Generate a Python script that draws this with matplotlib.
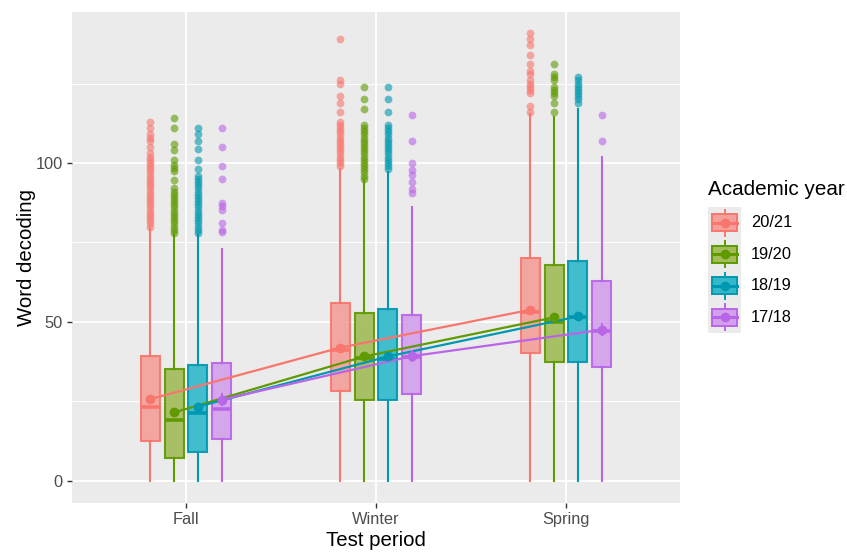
import matplotlib.pyplot as plt
import numpy as np

plt.rcParams['font.family'] = ['Liberation Sans', 'DejaVu Sans']

# ---------------------------
# Data
# ---------------------------
periods = ["Fall", "Winter", "Spring"]
years = ["20/21", "19/20", "18/19", "17/18"]

# indexed [period][year]
q1 = [[12.4, 7.1, 8.9, 13.1],
      [28.3, 25.3, 25.3, 27.2],
      [40.1, 37.3, 37.3, 35.9]]
med = [[23.2, 19.0, 21.3, 22.5],
       [41.2, 38.6, 38.3, 38.8],
       [53.2, 49.8, 51.4, 47.2]]
q3 = [[39.1, 35.1, 36.3, 37.1],
      [55.9, 52.9, 54.0, 52.0],
      [70.0, 67.9, 69.0, 63.0]]
whis_lo = [[0, 0, 0, 0],
           [0, 0, 0, 0],
           [0, 0, 0, 0]]
whis_hi = [[79.5, 77.5, 77.5, 73.0],
           [98.0, 94.5, 97.0, 86.0],
           [115.5, 114.5, 117.0, 102.0]]
means = [[25.7, 21.5, 23.3, 25.5],
         [41.9, 39.1, 39.1, 39.2],
         [53.8, 51.4, 51.7, 47.5]]
mean_err = [[0.4, 0.4, 0.5, 2.1],
            [0.4, 0.4, 0.5, 1.8],
            [0.5, 0.5, 0.6, 2.1]]

outliers = [
    [  # Fall
        [80, 81, 82, 83, 84, 85, 86, 87, 88, 89, 90, 91, 92, 93, 94, 95, 96,
         97, 98, 99, 100, 101, 102, 103, 105, 107, 108, 109, 111, 113],
        [78, 79, 80, 81, 82, 83, 84, 85, 86, 87, 88, 89, 90, 91, 92, 94.7,
         97.5, 98.5, 99.4, 101, 104, 106, 111, 114],
        [78, 79, 80, 81, 82, 83, 84, 85, 86, 87, 88, 89, 90, 91, 92, 93, 94,
         95, 96, 98, 101, 104.5, 107, 109, 111],
        [78.4, 79, 81, 85.2, 86.3, 87.3, 95.1, 99.1, 105.1, 111.1],
    ],
    [  # Winter
        [99, 100, 101, 102, 103, 104, 105, 106, 107, 108, 109, 110, 111, 112,
         113, 116, 119, 121, 125, 126, 139],
        [95, 96, 97, 98, 99, 100, 101, 102, 103, 104, 105, 106, 107, 108, 109,
         110, 111, 112, 117, 120, 124],
        [98, 99, 100, 101, 102, 103, 104, 105, 106, 107, 108, 109, 110, 111,
         112, 116, 120, 124],
        [90.5, 91.8, 94.1, 96.2, 97.8, 99.9, 107, 115],
    ],
    [  # Spring
        [116, 118, 122, 123, 124, 125, 126, 128, 129, 131, 134, 137, 139, 141],
        [116, 119, 121, 122, 123, 124, 126, 127, 128, 131],
        [119, 120, 121, 122, 123, 124, 125, 126, 127],
        [107, 115],
    ],
]

# ---------------------------
# Styling
# ---------------------------
line_cols = ["#F8766D", "#5E9A00", "#0098B0", "#B965E8"]
fill_cols = ["#F4A09A", "#A3BD5A", "#33B9CB", "#D3A1EC"]
offsets = [-0.1875, -0.0625, 0.0625, 0.1875]
box_w = 0.1

fig = plt.figure(figsize=(8.47, 5.52), dpi=100)
ax = fig.add_axes([72 / 847, 49 / 552, 608 / 847, 491 / 552])
ax.set_facecolor("#EBEBEB")
for s in ax.spines.values():
    s.set_visible(False)

# boxplots
for p in range(len(periods)):
    for j in range(len(years)):
        stats = [dict(med=med[p][j], q1=q1[p][j], q3=q3[p][j],
                      whislo=whis_lo[p][j], whishi=whis_hi[p][j],
                      fliers=outliers[p][j])]
        ax.bxp(stats, positions=[p + 1 + offsets[j]], widths=box_w,
               patch_artist=True, showcaps=False, manage_ticks=False,
               boxprops=dict(facecolor=fill_cols[j], edgecolor=line_cols[j],
                             linewidth=1.5, alpha=0.92),
               medianprops=dict(color=line_cols[j], linewidth=2.6),
               whiskerprops=dict(color=line_cols[j], linewidth=1.5),
               flierprops=dict(marker='o', markersize=5.6,
                               markerfacecolor=line_cols[j],
                               markeredgecolor='none', alpha=0.6),
               zorder=2)

# mean lines + mean points with error bars
means_arr = np.array(means)
err_arr = np.array(mean_err)
for j in range(len(years)):
    xs = np.arange(1, len(periods) + 1) + offsets[j]
    ax.plot(xs, means_arr[:, j], color=line_cols[j], lw=1.6, zorder=3)
    ax.errorbar(xs, means_arr[:, j], yerr=err_arr[:, j], fmt='o', ms=6,
                color=line_cols[j], ecolor=line_cols[j], elinewidth=1.4,
                capsize=0, zorder=4)

# axes
ax.set_xlim(0.4, 3.6)
ax.set_ylim(-7, 147.5)
ax.set_xticks([1, 2, 3])
ax.set_xticklabels(periods)
ax.set_yticks([0, 50, 100])
ax.set_yticks([25, 75, 125], minor=True)
ax.grid(which='major', color='white', lw=1.3)
ax.grid(which='minor', axis='y', color='white', lw=0.65)
ax.set_axisbelow(True)
ax.tick_params(which='major', length=3.5, width=1.0, color='#333333',
               labelcolor='#4D4D4D', labelsize=11.8, pad=3)
ax.tick_params(which='minor', length=0)

fig.text(376 / 847, 1 - 541 / 552, "Test period", ha='center', va='center',
         fontsize=14.7)
fig.text(27 / 847, 1 - 257 / 552, "Word decoding", ha='center', va='center',
         rotation=90, fontsize=14.7)

# ---------------------------
# Legend (drawn by hand, ggplot-like keys)
# ---------------------------
fig.text(708 / 847, 1 - 189 / 552, "Academic year", ha='left', va='center',
         fontsize=14.9)
key_h = 31.5
lax = fig.add_axes([708 / 847, 1 - (207 + 4 * key_h) / 552, 33 / 847,
                    4 * key_h / 552])
lax.set_xlim(0, 33)
lax.set_ylim(4 * key_h, 0)
lax.set_facecolor("#EBEBEB")
lax.set_xticks([])
lax.set_yticks([])
for s in lax.spines.values():
    s.set_visible(False)
for j, yr in enumerate(years):
    cy = key_h * j + key_h / 2
    lax.plot([16.5, 16.5], [cy - 13, cy + 13], color=line_cols[j], lw=1.4)
    lax.add_patch(plt.Rectangle((4, cy - 8.5), 25, 17, facecolor=fill_cols[j],
                                edgecolor=line_cols[j], lw=1.4, zorder=3))
    lax.plot([4, 29], [cy, cy], color=line_cols[j], lw=2.2, zorder=4)
    lax.plot([16.5], [cy], 'o', ms=6, color=line_cols[j], zorder=5)
    fig.text(751 / 847, 1 - (207 + cy) / 552, yr, ha='left', va='center',
             fontsize=11.8)

fig.savefig("out.png", dpi=100)
